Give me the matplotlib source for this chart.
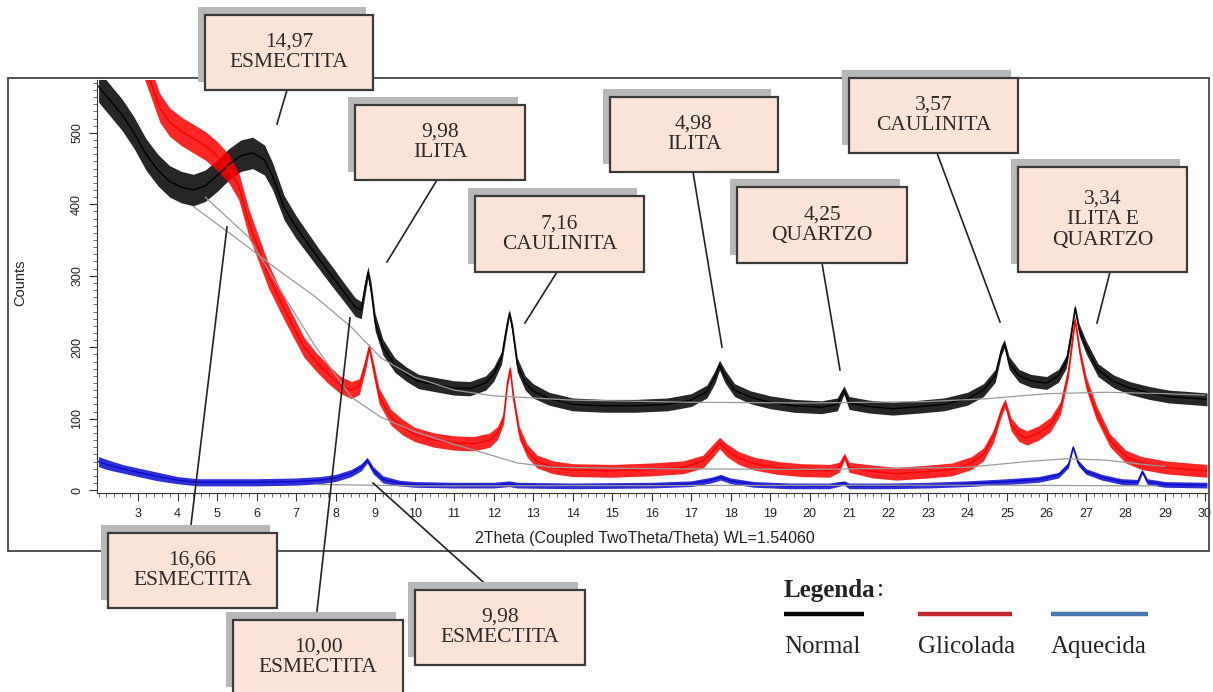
"""XRD pattern (Normal / Glicolada / Aquecida) with mineral annotation boxes."""

import matplotlib

matplotlib.use("Agg")
import matplotlib.pyplot as plt
import numpy as np
from matplotlib.lines import Line2D
from matplotlib.patches import Rectangle
from matplotlib.ticker import MultipleLocator

W, H = 1213, 692
SERIF = "Liberation Serif"
SANS = "Liberation Sans"

# ---- data (2theta in degrees, counts) ----
black_x = [2.0, 2.3, 2.6, 2.9, 3.2, 3.5, 3.8, 4.1, 4.4, 4.7, 5.0, 5.3, 5.6, 5.9, 6.2, 6.4,
           6.7, 7.0, 7.3, 7.6, 7.9, 8.2, 8.5, 8.65, 8.75, 8.82, 8.9, 9.0,
           9.2, 9.5, 9.8, 10.1, 10.5, 11.0, 11.4, 11.8, 12.0, 12.2, 12.32, 12.4, 12.48, 12.6, 12.8, 13.0,
           13.4, 14.0, 14.8, 15.6, 16.4, 17.0, 17.4, 17.6, 17.72, 17.85, 18.1, 18.5, 19.0, 19.6, 20.3, 20.7, 20.87, 21.0,
           21.5, 22.1, 22.8, 23.4, 24.0, 24.4, 24.7, 24.85, 24.93, 25.05, 25.3, 25.6, 26.0, 26.3, 26.5, 26.62,
           26.72, 26.82, 27.0, 27.3, 27.7, 28.1, 28.6, 29.1, 29.6, 30.06]
black_y = [565, 545, 525, 500, 470, 448, 432, 424, 420, 426, 440, 456, 468, 472, 462, 440,
           395, 368, 345, 322, 300, 278, 256, 252, 285, 305, 280, 235,
           200, 175, 162, 152, 148, 143, 142, 150, 162, 185, 225, 248, 225, 175, 150, 139,
           128, 120, 118, 118, 120, 126, 138, 158, 175, 160, 140, 130, 123, 118, 116, 120, 140, 122,
           117, 114, 117, 120, 128, 140, 160, 195, 205, 178, 160, 153, 150, 160, 180, 218,
           255, 225, 200, 168, 152, 143, 136, 131, 129, 127]
black_noise = [22, 22, 22, 22, 22, 22, 22, 22, 22, 22, 22, 22, 22, 22, 21, 19,
               17, 16, 15, 14, 14, 13, 13, 12, 10, 8, 10, 12,
               11, 10, 10, 10, 10, 10, 10, 10, 10, 9, 8, 5, 8, 10, 10, 10,
               9, 9, 9, 9, 9, 9, 9, 9, 7, 9, 9, 9, 9, 9, 9, 9, 6, 9,
               9, 9, 9, 9, 9, 9, 9, 7, 6, 9, 9, 9, 9, 9, 9, 8,
               5, 8, 9, 9, 9, 9, 9, 9, 9, 9]

red_x = [3.0, 3.3, 3.55, 3.8, 4.1, 4.4, 4.7, 5.0, 5.3, 5.55, 5.8, 6.0,
         6.3, 6.6, 6.9, 7.2, 7.5, 7.8, 8.1, 8.4, 8.6, 8.75, 8.85, 8.95, 9.1,
         9.4, 9.7, 10.0, 10.5, 11.0, 11.5, 11.9, 12.1, 12.25, 12.35, 12.42, 12.5, 12.65, 12.85, 13.1,
         13.5, 14.0, 15.0, 16.0, 16.8, 17.3, 17.55, 17.72, 17.9, 18.2, 18.6, 19.2, 19.8, 20.5, 20.75, 20.88, 21.0,
         21.6, 22.2, 23.0, 23.6, 24.1, 24.4, 24.65, 24.85, 24.95, 25.1, 25.3, 25.5, 25.8, 26.1, 26.35, 26.55,
         26.72, 26.85, 27.0, 27.25, 27.6, 28.0, 28.4, 29.0, 29.6, 30.06]
red_y = [620, 574, 535, 515, 502, 492, 482, 468, 450, 425, 375, 345,
         300, 265, 232, 200, 180, 163, 148, 140, 145, 175, 200, 172, 132,
         102, 88, 78, 70, 66, 65, 70, 80, 100, 150, 170, 130, 80, 55, 40,
         32, 28, 27, 29, 32, 40, 55, 66, 56, 45, 37, 31, 28, 27, 32, 47, 32,
         26, 23, 26, 29, 38, 50, 75, 110, 122, 92, 78, 73, 80, 92, 115, 165,
         238, 190, 150, 110, 70, 47, 38, 32, 29, 27]
red_noise = [20, 20, 20, 20, 20, 20, 20, 20, 20, 19, 19, 18,
             17, 16, 15, 14, 13, 13, 12, 12, 11, 9, 6, 9, 11,
             11, 11, 10, 10, 10, 10, 10, 9, 8, 6, 5, 7, 9, 9, 9,
             9, 9, 9, 9, 9, 9, 9, 8, 9, 9, 9, 9, 9, 9, 7, 5, 7,
             9, 9, 9, 9, 9, 9, 9, 7, 6, 9, 10, 10, 10, 10, 9, 8,
             5, 8, 9, 10, 9, 9, 9, 9, 9, 9]

blue_x = [2.0, 2.2, 2.6, 3.0, 3.5, 4.0, 4.5, 5.0, 6.0, 7.0, 7.6, 8.0, 8.4, 8.65, 8.8, 8.95, 9.2,
          9.6, 10.0, 11.0, 12.0, 12.4, 12.6, 14.0, 16.0, 17.0, 17.5, 17.75, 18.0, 18.6, 19.5, 20.5, 20.87, 21.0,
          22.0, 23.0, 24.0, 25.0, 25.8, 26.3, 26.55, 26.67, 26.8, 27.0, 27.4, 27.9, 28.3, 28.42, 28.55, 29.0, 30.06]
blue_y = [40, 36, 30, 25, 19, 14, 11, 11, 11, 12, 14, 17, 24, 32, 42, 28, 15,
          10, 8, 7, 7, 9, 7, 6, 7, 9, 14, 18, 13, 8, 6, 6, 10, 6,
          6, 7, 9, 12, 15, 21, 35, 60, 38, 26, 18, 12, 11, 26, 12, 8, 7]
blue_noise = [7, 7, 6, 6, 6, 5, 5, 5, 5, 5, 5, 5, 5, 5, 4, 5, 5,
              4, 4, 4, 4, 4, 4, 4, 4, 4, 4, 4, 4, 4, 4, 4, 3, 4,
              4, 4, 4, 4, 4, 4, 4, 3, 4, 4, 4, 4, 4, 3, 4, 4, 4]

# fitted background lines (thin gray)
black_bg_x = [4.4, 5.5, 6.5, 7.5, 8.4, 9.15, 10.0, 11.0, 12.0, 14.0, 17.0, 20.0, 23.0, 24.5, 26.0, 27.5, 29.0, 30.0]
black_bg_y = [397, 352, 310, 270, 228, 185, 158, 140, 132, 126, 123, 122, 124, 128, 135, 137, 135, 133]
red_bg_x = [4.7, 5.8, 6.6, 7.5, 8.4, 9.15, 10.0, 11.0, 12.0, 12.6, 13.5, 16.0, 20.0, 24.0, 25.5, 26.5, 27.5, 28.3, 29.0]
red_bg_y = [410, 354, 280, 200, 130, 102, 82, 64, 48, 38, 32, 30, 29, 32, 40, 44, 42, 37, 33]
blue_bg_x = [7.5, 10.0, 24.0, 28.8]
blue_bg_y = [8, 6, 7, 6]

x_ticks = list(range(3, 31))
y_ticks = [0, 100, 200, 300, 400, 500]

box_labels = [
    "14,97\nESMECTITA", "9,98\nILITA", "7,16\nCAULINITA", "4,98\nILITA", "4,25\nQUARTZO",
    "3,57\nCAULINITA", "3,34\nILITA E\nQUARTZO", "16,66\nESMECTITA", "10,00\nESMECTITA",
    "9,98\nESMECTITA",
]
legend_names = ["Normal", "Glicolada", "Aquecida"]

# ---- layout (pixels of the 1213x692 picture) ----
box_pixels = [
    (205, 15, 373, 90), (355, 105, 525, 180), (475, 196, 644, 272), (610, 97, 778, 172),
    (737, 187, 907, 263), (849, 78, 1018, 153), (1018, 167, 1187, 272), (108, 533, 277, 608),
    (233, 620, 403, 695), (415, 590, 585, 665),
]
leader_pixels = [
    ((287, 90), (277, 124)), ((437, 180), (387, 262)), ((557, 272), (525, 323)),
    ((693, 172), (722, 347)), ((822, 263), (840, 370)), ((937, 153), (1000, 322)),
    ((1110, 272), (1097, 323)), ((190, 533), (227, 227)), ((316, 620), (350, 318)),
    ((492, 590), (373, 483)),
]


def fx(px):
    return px / W


def fy(py):
    return 1 - py / H


fig = plt.figure(figsize=(W / 100, H / 100), dpi=100)
fig.patch.set_facecolor("white")

# outer frame of the diffractogram
fig.add_artist(Rectangle((fx(8), fy(551)), (1209 - 8) / W, (551 - 78) / H,
                         transform=fig.transFigure, fill=False, edgecolor="#444444",
                         lw=1.3, zorder=1))

ax = fig.add_axes([fx(97), fy(493), (1207 - 97) / W, (493 - 80) / H])
ax.set_facecolor("none")
ax.set_xlim(1.96, 30.06)
ax.set_ylim(-4, 574)

curves = [
    (black_x, black_y, black_noise, "#000000"),
    (red_x, red_y, red_noise, "#ff0000"),
    (blue_x, blue_y, blue_noise, "#0a0ad0"),
]
for xs, ys, noise, color in curves:
    xs, ys, noise = np.array(xs), np.array(ys), np.array(noise)
    ax.fill_between(xs, ys - noise, ys + noise, color=color, lw=0, alpha=0.85)
    ax.plot(xs, ys, color=color, lw=1.0)

for xs, ys in [(black_bg_x, black_bg_y), (red_bg_x, red_bg_y), (blue_bg_x, blue_bg_y)]:
    ax.plot(xs, ys, color="#9a9a9a", lw=0.9, zorder=3)

for side in ["top", "right"]:
    ax.spines[side].set_visible(False)
for side in ["left", "bottom"]:
    ax.spines[side].set_color("#333333")

ax.set_xticks(x_ticks)
ax.set_yticks(y_ticks)
ax.xaxis.set_minor_locator(MultipleLocator(0.2))
ax.yaxis.set_minor_locator(MultipleLocator(10))
ax.tick_params(which="major", direction="out", length=6, color="#333333",
               labelsize=9, labelcolor="#222222")
ax.tick_params(which="minor", direction="out", length=3, color="#555555")
ax.tick_params(axis="x", pad=5)
ax.tick_params(axis="y", pad=4, labelrotation=90)
for lab in ax.get_xticklabels() + ax.get_yticklabels():
    lab.set_fontfamily(SANS)
for lab in ax.get_yticklabels():
    lab.set_va("center")

fig.text(fx(645), fy(538), "2Theta (Coupled TwoTheta/Theta) WL=1.54060", family=SANS,
         size=11.5, ha="center", va="center", color="#222222")
fig.text(fx(20), fy(283), "Counts", family=SANS, size=10.5, rotation=90,
         ha="center", va="center", color="#222222")

# leader lines and annotation boxes
for (p0, p1) in leader_pixels:
    fig.add_artist(Line2D([fx(p0[0]), fx(p1[0])], [fy(p0[1]), fy(p1[1])],
                          transform=fig.transFigure, color="#222222", lw=1.2, zorder=3))

for label, (x0, y0, x1, y1) in zip(box_labels, box_pixels):
    w, h = (x1 - x0) / W, (y1 - y0) / H
    fig.add_artist(Rectangle((fx(x0 - 7), fy(y1 - 8)), w, h, transform=fig.transFigure,
                             facecolor="#b8b8b8", edgecolor="none", zorder=4))
    fig.add_artist(Rectangle((fx(x0), fy(y1)), w, h, transform=fig.transFigure,
                             facecolor="#fbe3d7", edgecolor="#3a3a3a", lw=1.6, zorder=5))
    fig.text(fx((x0 + x1) / 2), fy((y0 + y1) / 2), label, family=SERIF, size=15.5,
             ha="center", va="center", linespacing=1.12, color="#2a2a2a", zorder=6)

# legend
fig.text(fx(784), fy(590), "Legenda", family=SERIF, size=18, weight="bold",
         ha="left", va="center", color="#222222")
fig.text(fx(877), fy(590), ":", family=SERIF, size=18, ha="left", va="center",
         color="#222222")
legend_colors = ["#000000", "#c0282c", "#4a74b4"]
legend_starts = [784, 918, 1051]
legend_ends = [864, 1012, 1148]
for name, color, x0, x1 in zip(legend_names, legend_colors, legend_starts, legend_ends):
    fig.add_artist(Line2D([fx(x0), fx(x1)], [fy(614), fy(614)], transform=fig.transFigure,
                          color=color, lw=3.2, solid_capstyle="butt"))
    fig.text(fx(x0), fy(647), name, family=SERIF, size=18, ha="left", va="center",
             color="#222222")

fig.savefig("out.png", dpi=100)
